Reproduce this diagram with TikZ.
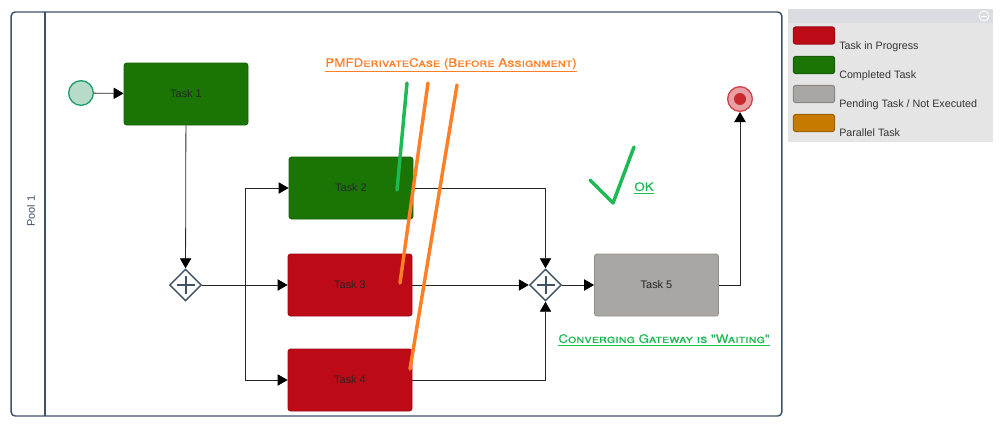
\documentclass[tikz,border=0pt]{standalone}
\usepackage{fontspec}
\setsansfont{Liberation Sans}
\newfontfamily\notefont[FakeStretch=1.14,FakeBold=0.6]{TeX Gyre Heros}
\usetikzlibrary{arrows.meta,shapes.geometric}
\definecolor{slate}{HTML}{3F5165}
\definecolor{donegreen}{HTML}{1A7505}
\definecolor{runred}{HTML}{BC0A16}
\definecolor{waitgrey}{HTML}{A9A7A4}
\definecolor{parorange}{HTML}{C77A00}
\definecolor{markgreen}{HTML}{1DB954}
\definecolor{markorange}{HTML}{FF7F27}
\definecolor{startline}{HTML}{1F9E6C}
\definecolor{startfill}{HTML}{B6DCC9}
\definecolor{endline}{HTML}{D0444C}
\definecolor{endfill}{HTML}{E8A0A4}
\definecolor{enddotfill}{HTML}{C92A2E}
\tikzset{
  task/.style={draw=#1!85!black,fill=#1,line width=.6pt,rounded corners=2pt,minimum width=93pt,minimum height=46.5pt,font=\sffamily\fontsize{8.2}{10}\selectfont,text=black!85},
  swatch/.style={draw=#1!80!black,fill=#1,line width=.8pt,rounded corners=2pt,minimum width=31pt,minimum height=13pt,inner sep=0pt},
  gate/.style={diamond,draw=slate,line width=1.1pt,fill=white,minimum width=24pt,minimum height=24pt,inner sep=0pt},
  flow/.style={line width=.6pt,draw=black!85,-{Triangle[length=7.5pt,width=8.5pt,color=black]}},
  stroke/.style={line width=2.6pt,line cap=round,line join=round},
  note/.style={font=\notefont\scshape\fontsize{8.8}{11}\selectfont,inner sep=0pt},
  legendtext/.style={anchor=base west,inner sep=0pt,font=\sffamily\fontsize{8.05}{10}\selectfont,text=black!80},
}
\begin{document}
\begin{tikzpicture}[x=.75pt,y=-.75pt]
\useasboundingbox (0,0) rectangle (1000,429);
% pool and lane header
\node[draw=slate,line width=1.1pt,rounded corners=3pt,minimum width=578pt,minimum height=303pt,inner sep=0pt] (pool) at (396.5,214){};
\coordinate (lanetop) at (45,12);\coordinate (lanebot) at (45,416);
\draw[slate,line width=1.1pt] (lanetop)--(lanebot);
\node[rotate=90,text=slate,font=\sffamily\fontsize{8.2}{10}\selectfont] (poolname) at (31,211){Pool 1};
% events and gateways
\node[circle,draw=startline,fill=startfill,line width=1pt,minimum size=18.5pt,inner sep=0pt] (start) at (81,93){};
\node[circle,draw=endline,fill=endfill,line width=1pt,minimum size=18.5pt,inner sep=0pt] (end) at (740,99){};
\node[circle,fill=enddotfill,minimum size=9pt,inner sep=0pt] (enddot) at (end){};
\node[gate] (split) at (185.5,285){};
\node[gate] (join) at (545.5,285){};
\foreach \g in {split,join}{
  \draw[slate,line width=1.5pt] ([xshift=-6.75pt]\g.center)--([xshift=6.75pt]\g.center);
  \draw[slate,line width=1.5pt] ([yshift=-6.75pt]\g.center)--([yshift=6.75pt]\g.center);
}
% tasks
\node[task=donegreen] (t1) at (186,94){Task 1};
\node[task=donegreen] (t2) at (351,188){Task 2};
\node[task=runred] (t3) at (350,285){Task 3};
\node[task=runred] (t4) at (350,380){Task 4};
\node[task=waitgrey] (t5) at (656.5,285){Task 5};
% sequence flows
\coordinate (fork) at (245,285);
\draw[flow] (start)--(t1);\draw[flow] (t1)--(split);\draw[flow] (split)--(t3);
\draw[flow] (fork)|-(t2);\draw[flow] (fork)|-(t4);
\draw[flow] (t2)-|(join);\draw[flow] (t3)--(join);\draw[flow] (t4)-|(join);
\draw[flow] (join)--(t5);\draw[flow] (t5)-|(end);
% annotations
\coordinate (ga) at (407,83);\coordinate (gb) at (397,190);
\coordinate (oa) at (428,83);\coordinate (ob) at (400,283);
\coordinate (pa) at (457,85);\coordinate (pb) at (410,369);
\coordinate (ca) at (590,180);\coordinate (cb) at (613,203);\coordinate (cc) at (634,147);
\draw[stroke,markgreen] (ga)--(gb);
\draw[stroke,markorange] (oa)--(ob);
\draw[stroke,markorange] (pa)--(pb);
\draw[stroke,markgreen] (ca)--(cb)--(cc);
\node[note,text=markorange] (before) at (451,65){\underline{PMFDerivateCase (Before Assignment)}};
\node[note,text=markgreen] (okay) at (644,188){\underline{OK}};
\node[note,text=markgreen] (waiting) at (664,340){\underline{Converging Gateway is "Waiting"}};
% legend panel
\node[fill=black!10,minimum width=154pt,minimum height=100pt,inner sep=0pt] (legend) at (890.5,75.5){};
\node[fill=slate!20,minimum width=154pt,minimum height=10.5pt,inner sep=0pt] (legendhead) at (890.5,16){};
\node[circle,draw=white,line width=.6pt,minimum size=7.5pt,inner sep=0pt] (fold) at (984,16){};
\draw[white,line width=.6pt] ([xshift=-2.2pt]fold.center)--([xshift=2.2pt]fold.center);
\node[swatch=runred] (s1) at (814,35.5){};
\node[swatch=donegreen] (s2) at (814,65){};
\node[swatch=waitgrey] (s3) at (814,94){};
\node[swatch=parorange] (s4) at (814,123){};
\node[legendtext] (l1) at (839,49){Task in Progress};
\node[legendtext] (l2) at (839,78){Completed Task};
\node[legendtext] (l3) at (839,107){Pending Task / Not Executed};
\node[legendtext] (l4) at (839,136){Parallel Task};
\end{tikzpicture}
\end{document}
